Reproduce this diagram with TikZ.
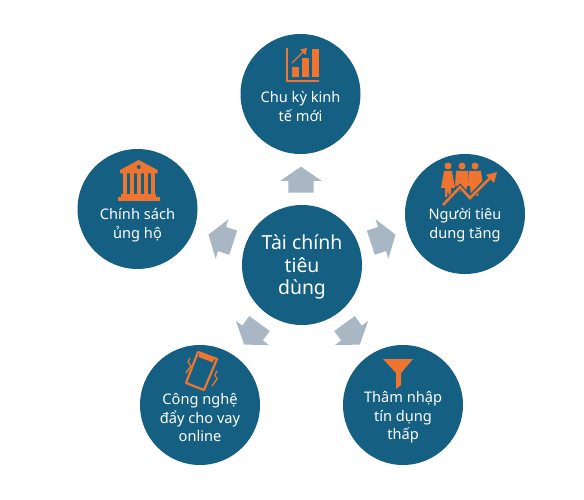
\documentclass[tikz,border=0pt]{standalone}
\usepackage{fontspec}
\setmainfont{Noto Sans}
\usetikzlibrary{shapes.arrows}
\definecolor{bubbleblue}{HTML}{156082}
\definecolor{iconorange}{HTML}{EF7430}
\definecolor{flowgray}{HTML}{A9B6C3}
\tikzset{
        bubble/.style={circle, minimum size=120pt, inner sep=0pt, fill=bubbleblue},
        bubble_text/.style={align=center, text=white, font=\fontsize{14.6}{18.5}\selectfont},
        flow_arrow/.style={single arrow, draw=none, fill=flowgray, inner xsep=0pt, inner ysep=12.5pt,
                           minimum height=26pt,
                           single arrow head extend=8pt, single arrow tip angle=111},
        icon_fill/.style={fill=iconorange, draw=none},
        icon_line/.style={draw=iconorange, line width=2.2pt}
    }
\begin{document}
\begin{tikzpicture}[x=1pt, y=-1pt]
    \useasboundingbox (0,0) rectangle (584,500);
    % circles
    \node[bubble] (center) at (302,265) {};
    \node[bubble] (cycle) at (300.5,94) {};
    \node[bubble] (people) at (465,214) {};
    \node[bubble] (funnel) at (403,405) {};
    \node[bubble] (phone) at (200,405) {};
    \node[bubble] (policy) at (137.5,209) {};
    % labels
    \node[bubble_text, font=\fontsize{19.4}{22.5}\selectfont] (center_label) at (302,267) {Tài chính\\tiêu\\dùng};
    \node[bubble_text] (cycle_label) at (300.5,106.5) {Chu kỳ kinh\\tế mới};
    \node[bubble_text] (people_label) at (465,225) {Người tiêu\\dung tăng};
    \node[bubble_text] (funnel_label) at (403,417.5) {Thâm nhập\\tín dụng\\thấp};
    \node[bubble_text] (phone_label) at (200,417.5) {Công nghệ\\đẩy cho vay\\online};
    \node[bubble_text] (policy_label) at (137.5,225) {Chính sách\\ủng hộ};
    % arrows
    \node[flow_arrow, rotate=90] (arrow_cycle) at (301,184) {};
    \node[flow_arrow, rotate=18] (arrow_people) at (379,240) {};
    \node[flow_arrow, rotate=-54] (arrow_funnel) at (349.6,330.5) {};
    \node[flow_arrow, rotate=-126] (arrow_phone) at (254.4,330.5) {};
    \node[flow_arrow, rotate=162] (arrow_policy) at (225,240) {};
    % chart icon
    \draw[icon_line] (287,48) -- (287,81) -- (319,81);
    \fill[icon_fill] (292,67) rectangle (298.5,77);
    \fill[icon_fill] (302,58) rectangle (309,77);
    \fill[icon_fill] (312,49) rectangle (319,77);
    \draw[icon_line, line width=1.4pt] (292,63) -- (305,50);
    \fill[icon_fill] (307,48) -- (300,49.5) -- (305.5,55) -- cycle;
    % people icon
    \foreach \px in {448,462,475} {
        \fill[icon_fill] (\px,166) circle (3.5);
    }
    \fill[icon_fill] (444,171) -- (452,171) -- (455,188) -- (451,188) -- (451,197) -- (449,197) -- (448,190) -- (447,197) -- (445,197) -- (445,188) -- (441,188) -- cycle;
    \fill[icon_fill] (456,171) -- (468,171) -- (469,186) -- (467,186) -- (466,192) -- (458,192) -- (457,186) -- (455,186) -- cycle;
    \fill[icon_fill] (469,171) -- (481,171) -- (483,186) -- (480,186) -- (478,196) -- (476,196) -- (475,190) -- (473,196) -- (471,196) -- (470,186) -- (468,186) -- cycle;
    \draw[icon_line, line width=5pt, draw=bubbleblue] (440,209) -- (460,187) -- (470,198) -- (484,183);
    \draw[icon_line, line width=2.6pt] (443,205) -- (460,187) -- (470,198) -- (490,178);
    \fill[icon_fill] (497,172) -- (486,175) -- (494,183) -- cycle;
    % bank icon
    \fill[icon_fill] (138.7,160) -- (157.5,170) -- (157.5,173.5) -- (120,173.5) -- (120,170) -- cycle;
    \fill[bubbleblue] (138.7,167) circle (2);
    \foreach \cx in {122.7,129.7,136.7,143.7,150.7} {
        \fill[icon_fill] (\cx,173) rectangle ++(4.2,21);
    }
    \fill[icon_fill] (121,194) rectangle (156,197);
    \fill[icon_fill] (118,197) rectangle (160,201);
    % phone icon
    \draw[icon_line, line join=round] (198,352) -- (217,359) -- (204,390) -- (186,383) -- cycle;
    \draw[icon_line, line width=4pt] (199,355) -- (213.5,360.5);
    \draw[icon_line, line width=1.3pt] (190,358) -- (188,362) -- (191,366) -- (188,370) -- (186,373);
    \draw[icon_line, line width=1.3pt] (217,371) -- (215,375) -- (217,379) -- (214,383) -- (212,386);
    % funnel icon
    \fill[icon_fill] (383,359) -- (413,359) -- (401,373) -- (401,385) -- (396,389) -- (396,373) -- cycle;
\end{tikzpicture}
\end{document}
